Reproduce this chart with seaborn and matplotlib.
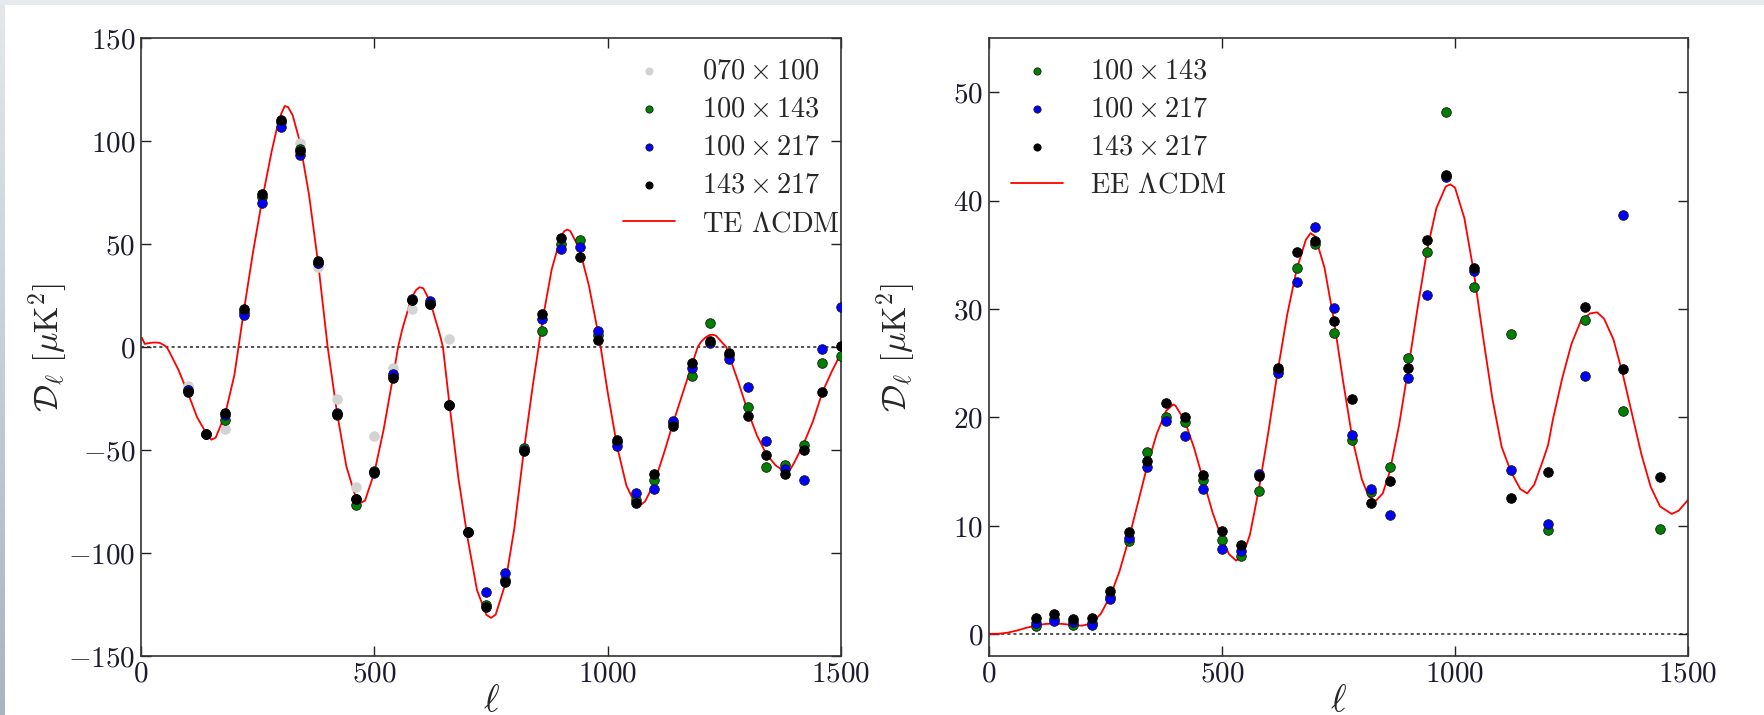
import numpy as np
import pandas as pd
import matplotlib
matplotlib.use("Agg")
import matplotlib.pyplot as plt
import matplotlib.patches as mpatches
import seaborn as sns

# ---------------- TE spectra ----------------
te_ell = [100, 140, 180, 220, 260, 300, 340, 380, 420, 460, 500, 540, 580, 620,
          660, 700, 740, 780, 820, 860, 900, 940, 980, 1020, 1060, 1100, 1140,
          1180, 1220, 1260, 1300, 1340, 1380, 1420, 1460, 1500]
te_070x100_ell = [100, 140, 180, 220, 260, 300, 340, 380, 420, 460, 500, 540,
                  580, 620, 660]
te_070x100 = [-19, -42, -40, 17, 73, 109, 99, 39, -25, -68, -43, -10, 18.5, 21, 4]
te_100x143 = [-21, -42, -35.5, 17, 73, 109, 96, 41, -33, -76.6, -60, -14, 23, 21,
              -28, -90, -125.3, -113, -49, 7.8, 50, 51.8, 6, -46, -74.4, -64.4,
              -37, -14.3, 11.6, -4, -29, -58.3, -57.2, -47.7, -7.8, -4.5]
te_100x217 = [-21, -42, -33, 15.6, 70, 107, 93, 41, -32, -74, -61, -13, 23.5,
              22.2, -28, -90, -119, -109.6, -50, 13.6, 47.6, 48.7, 7.8, -47.9,
              -71, -68.9, -36, -10.3, 2, -5.6, -19.3, -45.4, -59.4, -64.4, -1.2,
              19.6]
te_143x217 = [-21.8, -42, -32, 18.5, 74.4, 110.2, 95, 41.7, -32.4, -74, -60.7,
              -15, 22.9, 20.7, -28.2, -89.9, -126.4, -114.2, -50.5, 15.8, 52.7,
              43.9, 3.6, -45.2, -75.7, -61.8, -38.3, -7.6, 2.8, -3, -33.5, -52.3,
              -61.8, -50.1, -22, 0.3]

te_model_ell = [2, 8, 20, 30, 40, 50, 55, 60, 80, 100, 120, 140, 151, 160, 180,
                200, 209, 220, 240, 260, 280, 290, 300, 308, 315, 325, 340, 360,
                380, 400, 420, 440, 460, 472, 480, 500, 520, 540, 551, 560, 580,
                590, 597, 605, 620, 640, 647, 660, 680, 700, 720, 740, 750, 760,
                780, 800, 820, 840, 852, 860, 880, 900, 907, 913, 920, 940, 960,
                980, 985, 1000, 1020, 1040, 1060, 1067, 1080, 1100, 1120, 1140,
                1160, 1180, 1193, 1200, 1210, 1218, 1225, 1232, 1240, 1254, 1260,
                1280, 1300, 1320, 1340, 1360, 1372, 1382, 1392, 1400, 1420, 1440,
                1460, 1480, 1500]
te_model = [4.5, 1.5, 2.0, 2.2, 2.0, 0.8, 0.0, -2.0, -11, -22, -34, -42, -45,
            -44, -33, -13.7, 0, 17, 46, 72, 95, 105, 113, 117, 116.5, 112.5, 100,
            74, 40, 0, -31.9, -57.9, -72.9, -75.5, -74.6, -61, -40, -14.5, 0, 8.7,
            24.2, 27.8, 29, 28.5, 21.8, 6.3, 0, -25.9, -63.4, -93, -118, -130,
            -131.5, -129.9, -115.5, -88, -51, -18, 0, 12.5, 37.6, 53.8, 56.2, 57,
            56.3, 47.4, 29.6, 6.2, 0, -21.9, -48, -67.2, -76.6, -77.3, -75, -66,
            -52, -37, -23, -9, 0, 2.5, 4.7, 5.8, 6, 5.5, 3.5, 0, -4, -17, -31,
            -43, -52, -57.5, -59.3, -59.8, -59.2, -56, -47, -36, -22, -12, -3]

# ---------------- EE spectra ----------------
ee_ell = [100, 140, 180, 220, 260, 300, 340, 380, 420, 460, 500, 540, 580, 620,
          660, 700, 740, 780, 820, 860, 900, 940, 980, 1040, 1120, 1200, 1280,
          1360, 1440]
ee_100x143 = [0.8, 1.4, 0.9, 1.0, 3.4, 8.6, 16.8, 20.0, 19.6, 14.2, 8.7, 7.2,
              13.2, 24.4, 33.8, 36.0, 27.8, 17.9, 13.1, 15.4, 25.5, 35.3, 48.2,
              32.0, 27.7, 9.6, 29.0, 20.6, 9.7]
ee_100x217_ell = ee_ell[:-1]
ee_100x217 = [1.0, 1.2, 1.1, 0.9, 3.3, 8.9, 15.4, 19.7, 18.3, 13.4, 7.9, 7.7,
              14.8, 24.1, 32.5, 37.6, 30.1, 18.4, 13.4, 11.0, 23.6, 31.3, 42.2,
              33.5, 15.2, 10.2, 23.8, 38.7]
ee_143x217 = [1.5, 1.9, 1.4, 1.55, 4.0, 9.4, 16.0, 21.3, 20.0, 14.7, 9.5, 8.2,
              14.6, 24.6, 35.3, 36.3, 28.9, 21.7, 12.1, 14.1, 24.6, 36.4, 42.4,
              33.8, 12.6, 15.0, 30.2, 24.5, 14.5]

ee_model_ell = [0, 20, 40, 60, 80, 100, 120, 140, 160, 180, 200, 220, 240, 260,
                280, 300, 320, 340, 360, 380, 395, 400, 420, 440, 460, 480, 500,
                515, 530, 545, 560, 580, 600, 620, 640, 660, 680, 690, 700, 720,
                740, 760, 780, 800, 815, 830, 845, 860, 880, 900, 920, 940, 960,
                980, 990, 1000, 1020, 1040, 1060, 1080, 1100, 1120, 1140, 1155,
                1170, 1190, 1200, 1210, 1230, 1250, 1270, 1290, 1305, 1320, 1340,
                1360, 1380, 1400, 1420, 1440, 1465, 1480, 1500]
ee_model = [0.05, 0.05, 0.15, 0.35, 0.6, 0.8, 0.95, 1.0, 0.95, 0.85, 0.8, 1.0,
            1.9, 3.5, 5.8, 8.8, 12.2, 15.6, 18.5, 20.6, 21.2, 21.1, 19.7, 17.2,
            14.2, 11.2, 8.8, 7.4, 6.8, 7.3, 9.2, 13.6, 18.8, 24.4, 29.5, 33.6,
            36.4, 37.0, 36.7, 33.8, 29.0, 23.3, 18.0, 14.3, 12.7, 12.3, 13.0,
            15.0, 19.3, 24.6, 30.2, 35.4, 39.3, 41.3, 41.5, 41.2, 38.4, 33.5,
            27.5, 21.8, 17.3, 15.0, 13.4, 13.0, 13.8, 16.2, 17.5, 19.8, 23.6,
            26.8, 28.9, 29.6, 29.7, 29.1, 27.2, 24.0, 20.3, 16.6, 13.6, 11.8,
            11.1, 11.4, 12.4]

# ---------------- styling ----------------
sns.set_style("ticks")
plt.rcParams.update({
    "font.family": "serif",
    "font.serif": ["cmr10"],
    "mathtext.fontset": "cm",
    "axes.formatter.use_mathtext": True,
    "axes.unicode_minus": True,
    "axes.edgecolor": "#333333",
    "axes.linewidth": 1.2,
    "xtick.color": "#222222",
    "ytick.color": "#222222",
    "xtick.labelcolor": "#1a1a2e",
    "ytick.labelcolor": "#1a1a2e",
})

fig = plt.figure(figsize=(17.65, 7.15), dpi=100)
fig.patch.set_facecolor("white")

# thin window frame along the top and left edges
frame_ax = fig.add_axes([0, 0, 1, 1], zorder=-10)
frame_ax.set_axis_off()
frame_ax.add_patch(mpatches.Rectangle((0, 0), 1765, 4.5, color="#e6eaec", lw=0))
grad = np.linspace(0, 1, 256)[:, None]
frame_ax.imshow(grad, extent=(0, 5, 715, 0), aspect="auto",
                cmap=matplotlib.colors.LinearSegmentedColormap.from_list(
                    "edge", ["#e4e8ea", "#a6b5bf"]))
frame_ax.set_xlim(0, 1765)
frame_ax.set_ylim(715, 0)

ax1 = fig.add_axes([141 / 1765, 59 / 715, 700 / 1765, 618 / 715])
ax2 = fig.add_axes([989 / 1765, 59 / 715, 699 / 1765, 618 / 715])

marker_s = 48
series_style = {
    "070x100": dict(color="#d3d3d3", edgecolor="#d3d3d3"),
    "100x143": dict(color="green", edgecolor="#1a1a1a"),
    "100x217": dict(color="blue", edgecolor="#1a1a1a"),
    "143x217": dict(color="black", edgecolor="black"),
}


def draw_points(ax, ell, vals, key, label, z):
    df = pd.DataFrame({"ell": ell, "D": vals})
    st = series_style[key]
    sns.scatterplot(data=df, x="ell", y="D", ax=ax, s=marker_s, color=st["color"],
                    edgecolor=st["edgecolor"], linewidth=0.6, label=label,
                    zorder=z)


def style_axes(ax, ylim, yticks):
    ax.set_xlim(0, 1500)
    ax.set_ylim(*ylim)
    ax.set_xticks([0, 500, 1000, 1500])
    ax.set_yticks(yticks)
    ax.tick_params(direction="in", length=7, width=1.0, top=True, right=True,
                   labelsize=21, pad=4)
    ax.set_xlabel(r"$\ell$", fontsize=27, labelpad=-2)
    ax.set_ylabel(r"$\mathcal{D}_\ell\ [\mu\mathrm{K}^2]$", fontsize=24.5)
    ax.yaxis.set_label_coords(-0.101, 0.5)
    for sp in ax.spines.values():
        sp.set_visible(True)


legend_kw = dict(frameon=False, fontsize=20.4, handlelength=1.85,
                 handletextpad=0.95, labelspacing=0.42, markerscale=0.75,
                 borderaxespad=0.3)

# ---- TE panel ----
ax1.axhline(0, color="#222222", lw=1.1, ls=(0, (2, 2)), zorder=1)
sns.lineplot(x=te_model_ell, y=te_model, ax=ax1, color="red", lw=1.3,
             label=r"TE $\Lambda$CDM", zorder=2, sort=False)
draw_points(ax1, te_070x100_ell, te_070x100, "070x100", r"$070\times100$", 3)
draw_points(ax1, te_ell, te_100x143, "100x143", r"$100\times143$", 4)
draw_points(ax1, te_ell, te_100x217, "100x217", r"$100\times217$", 5)
draw_points(ax1, te_ell, te_143x217, "143x217", r"$143\times217$", 6)
style_axes(ax1, (-150, 150), [-150, -100, -50, 0, 50, 100, 150])

h, l = ax1.get_legend_handles_labels()
order = [1, 2, 3, 4, 0]
ax1.legend([h[i] for i in order], [l[i] for i in order], loc="upper right",
           bbox_to_anchor=(1.027, 1.0), **legend_kw)

# ---- EE panel ----
ax2.axhline(0, color="#222222", lw=1.1, ls=(0, (2, 2)), zorder=1)
sns.lineplot(x=ee_model_ell, y=ee_model, ax=ax2, color="red", lw=1.3,
             label=r"EE $\Lambda$CDM", zorder=2, sort=False)
draw_points(ax2, ee_ell, ee_100x143, "100x143", r"$100\times143$", 4)
draw_points(ax2, ee_100x217_ell, ee_100x217, "100x217", r"$100\times217$", 5)
draw_points(ax2, ee_ell, ee_143x217, "143x217", r"$143\times217$", 6)
style_axes(ax2, (-2, 55), [0, 10, 20, 30, 40, 50])

h, l = ax2.get_legend_handles_labels()
order = [1, 2, 3, 0]
ax2.legend([h[i] for i in order], [l[i] for i in order], loc="upper left",
           bbox_to_anchor=(0.003, 1.0), **legend_kw)

fig.savefig("out.png", dpi=100, facecolor="white")
